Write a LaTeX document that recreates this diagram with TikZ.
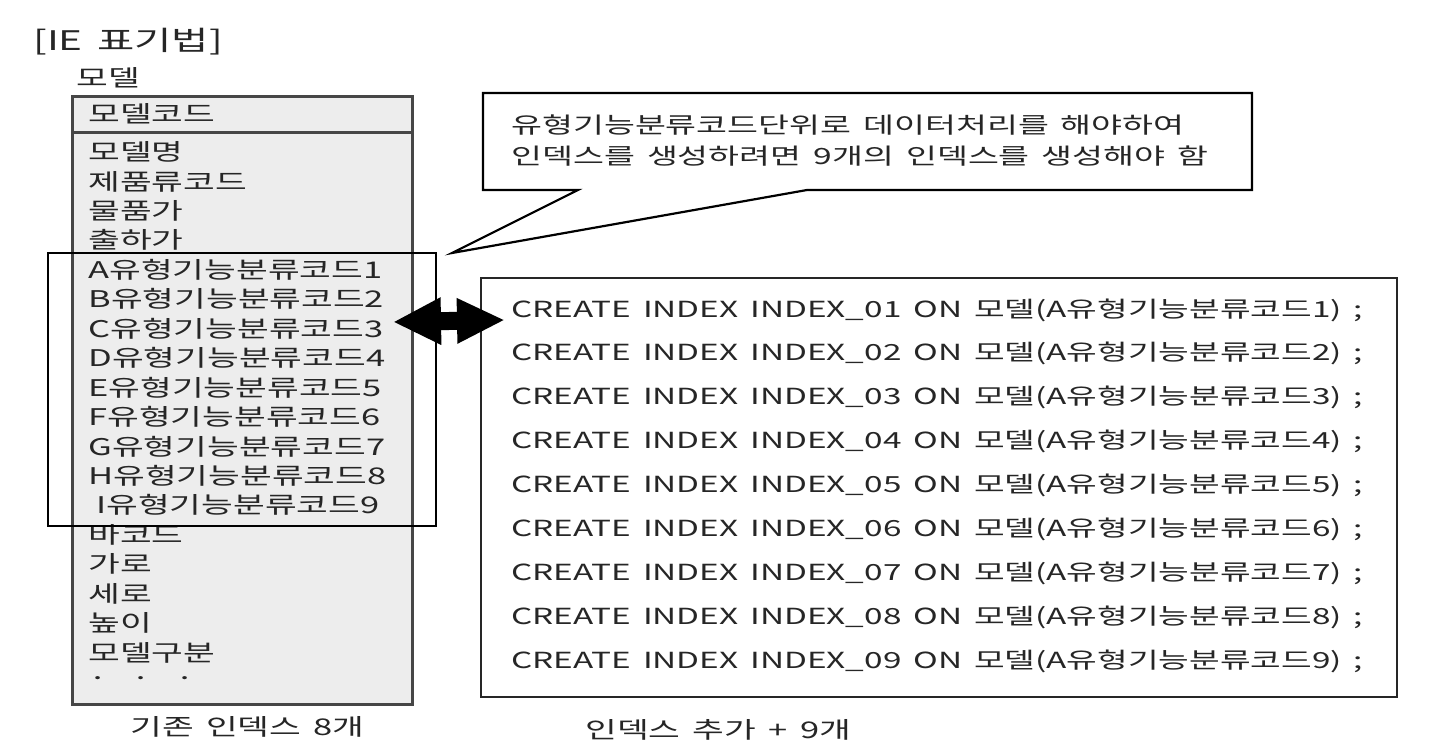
\documentclass[tikz,border=0pt]{standalone}
\usepackage{fontspec}
\setmainfont{Noto Sans CJK KR}[FakeStretch=1.5,WordSpace=1.6]
\usetikzlibrary{arrows.meta,positioning}

\begin{document}
\begin{tikzpicture}[x=0.5pt,y=-0.5pt,
    every node/.style={inner sep=0pt,anchor=west,text=black!85},
    fld/.style={font=\fontsize{11.5}{15.5}\selectfont},
    sql/.style={font=\fontsize{11.1}{14}\selectfont},
    boxline/.style={draw=gray!55!black,line width=1.5pt}]
  \useasboundingbox (0,0) rectangle (1434,754);
  \node[font=\fontsize{13.5}{16}\selectfont](title) at (33,42) {[IE 표기법]};
  \node[fld](ent) at (76,78) {모델};
  % entity box
  \draw[boxline,fill=gray!14] (72,97) rectangle (412,704);
  \draw[boxline] (72,133) -- (412,133);
  \node[fld](key) at (88,114) {모델코드};
  \foreach \t [count=\i] in {모델명,제품류코드,물품가,출하가,
      A유형기능분류코드1,B유형기능분류코드2,C유형기능분류코드3,
      D유형기능분류코드4,E유형기능분류코드5,F유형기능분류코드6,
      G유형기능분류코드7,H유형기능분류코드8,{\hspace{4pt}I유형기능분류코드9},
      바코드,가로,세로,높이,모델구분,{·\hspace{12pt}·\hspace{12pt}·}}
    \node[fld](r\i) at (88,{152+(\i-1)*29.44}) {\t};
  % group of new columns
  \draw[line width=0.8pt] (48,253) rectangle (436,526);
  % callout
  \draw[line width=1.1pt,fill=white] (483,93) -- (1252,93) -- (1252,190)
    -- (807,190) -- (452,253) -- (578,190) -- (483,190) -- cycle;
  \node[fld,align=left,font=\fontsize{11.2}{15.5}\selectfont](note) at (511,141)
    {유형기능분류코드단위로 데이터처리를 해야하여\\
     인덱스를 생성하려면 9개의 인덱스를 생성해야 함};
  % index box
  \draw[line width=1.2pt,draw=gray!30!black] (481,278) rectangle (1397,697);
  \foreach \i in {1,...,9}
    \node[sql](q\i) at (511,{310+(\i-1)*43.9})
      {CREATE INDEX INDEX\_0\i\ ON 모델(A유형기능분류코드\i) ;};
  \coordinate (aL) at (393,322);
  \coordinate (aR) at (505,320);
  \draw[line width=9pt,{Triangle[length=24pt,width=22pt]}-{Triangle[length=24pt,width=21pt]}] (aL) -- (aR);
  \node[fld](old) at (130,727) {기존 인덱스 8개};
  \node[fld](new) at (585,730) {인덱스 추가 + 9개};
\end{tikzpicture}
\end{document}
